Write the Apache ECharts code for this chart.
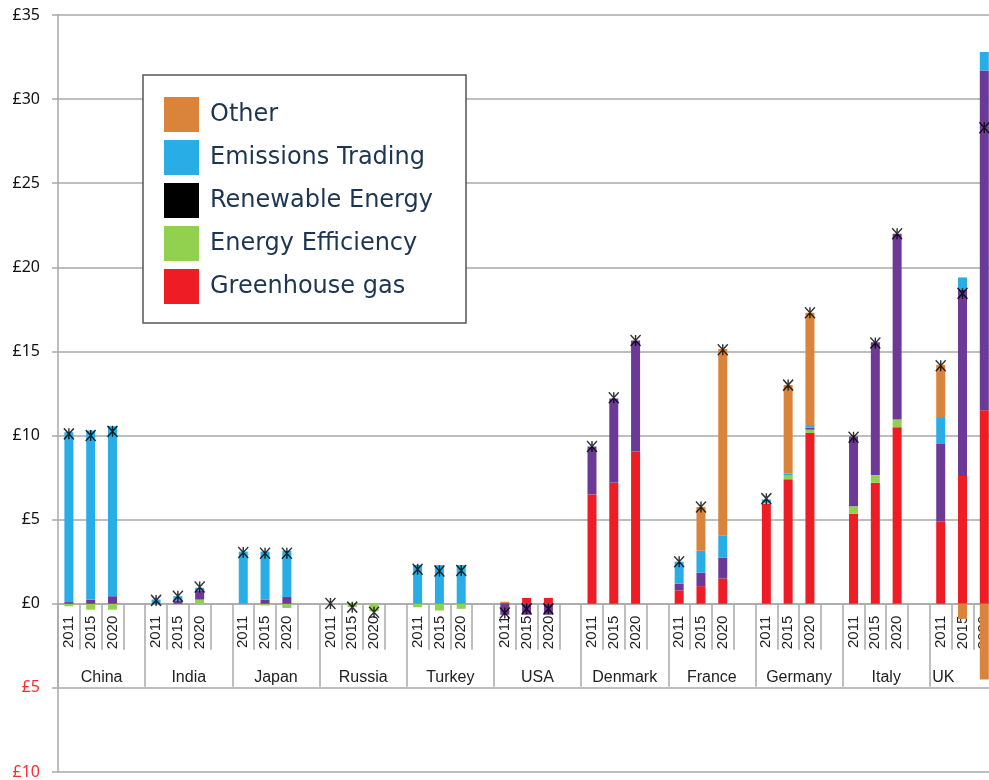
<!DOCTYPE html>
<html>
<head>
<meta charset="utf-8">
<style>
  html, body { margin: 0; padding: 0; background: #fff; }
  #chart { width: 989px; height: 780px; }
</style>
<script src="https://cdn.jsdelivr.net/npm/echarts@6/dist/echarts.min.js"></script>
</head>
<body>
<div id="chart"></div>
<script>
const countries = ["China", "India", "Japan", "Russia", "Turkey", "USA", "Denmark", "France", "Germany", "Italy", "UK"];
const years = ["2011", "2015", "2020"];

// values per country, 2011 / 2015 / 2020 (£)
const greenhouseGas = [0, 0, 0, 0, 0, 0, 0, 0, 0, 0, 0, 0, 0, 0, 0, 0.05, 0.35, 0.35,
  6.5, 7.2, 9.05, 0.8, 1.05, 1.5, 5.95, 7.4, 10.15, 5.35, 7.2, 10.5, 4.9, 7.6, 11.5];
const energyEfficiency = [-0.15, -0.35, -0.35, 0, 0, 0.25, 0, -0.1, -0.25, 0, -0.2, -0.45, -0.2, -0.4, -0.3, 0, 0, 0,
  0, 0, 0, 0, 0, 0, 0.05, 0.22, 0.2, 0.45, 0.45, 0.45, 0, 0, 0];
const renewableEnergy = [0.1, 0.25, 0.45, 0, 0.2, 0.55, 0, 0.25, 0.4, 0, 0, 0, 0, 0, 0, -0.65, -0.65, -0.65,
  2.85, 5.0, 6.6, 0.4, 0.8, 1.25, 0, 0, 0.12, 4.15, 7.9, 11.05, 4.6, 11.05, 20.2];
const emissionsTrading = [10.1, 10.05, 10.1, 0.25, 0.25, 0.15, 3.1, 2.85, 2.75, 0, 0, 0, 2.3, 2.3, 2.3, 0, 0, 0,
  0, 0, 0, 1.3, 1.3, 1.3, 0.2, 0.11, 0.1, 0, 0, 0, 1.6, 0.75, 1.1];
const other = [0, 0, 0, 0, 0, 0, 0, 0, 0, 0, 0, 0, 0, 0, 0, 0.07, 0, 0,
  0, 0, 0, 0, 2.6, 11.1, 0, 5.27, 6.73, 0, 0, 0, 3.1, -0.9, -4.5];
const totals = [10.1, 10.0, 10.25, 0.2, 0.45, 1.0, 3.05, 3.0, 3.0, 0.02, -0.2, -0.5, 2.05, 1.95, 1.98, -0.55, -0.3, -0.3,
  9.35, 12.25, 15.65, 2.5, 5.75, 15.1, 6.25, 13.0, 17.3, 9.9, 15.5, 22.0, 14.15, 18.45, 28.3];

const yTicks = { min: -10, max: 35, step: 5 };

// each country gets 3 year slots plus one empty gap slot
const slotLabels = [];
countries.forEach(() => { years.forEach(y => slotLabels.push(y)); slotLabels.push(""); });
function toSlots(arr) {
  const out = [];
  for (let i = 0; i < countries.length; i++) {
    out.push(arr[i * 3], arr[i * 3 + 1], arr[i * 3 + 2], "-");
  }
  return out;
}

const GRID_COLOR = "#a9a9a9";
const LABEL_FONT = "'Liberation Sans', Arial, sans-serif";
const GRID_H = 757;
// move the category axes up from the bottom (-10) to the zero line
const ZERO_OFFSET = -GRID_H * (0 - yTicks.min) / (yTicks.max - yTicks.min);

const barSeries = [
  { name: "Greenhouse gas", data: greenhouseGas, color: "#ee1c25" },
  { name: "Energy Efficiency", data: energyEfficiency, color: "#92d050" },
  { name: "Renewable Energy", data: renewableEnergy, color: "#6c3a96" },
  { name: "Emissions Trading", data: emissionsTrading, color: "#29ade6" },
  { name: "Other", data: other, color: "#da843b" },
].map(s => ({
  name: s.name,
  type: "bar",
  stack: "total",
  xAxisIndex: 0,
  barWidth: 9,
  data: toSlots(s.data),
  itemStyle: { color: s.color },
  emphasis: { disabled: true },
}));

const chart = echarts.init(document.getElementById("chart"), null, { renderer: "canvas" });

chart.setOption({
  animation: false,
  backgroundColor: "#fff",
  grid: { left: 58, top: 15, width: 959, height: GRID_H, containLabel: false, outerBoundsMode: "none" },
  legend: {
    orient: "vertical",
    left: 143,
    top: 75,
    padding: [22, 33, 19, 21],
    itemWidth: 35,
    itemHeight: 35,
    itemGap: 8,
    selectedMode: false,
    backgroundColor: "#fff",
    borderColor: "#555",
    borderWidth: 1.5,
    borderRadius: 0,
    textStyle: {
      fontFamily: "'DejaVu Sans', sans-serif",
      fontSize: 24,
      color: "#1c3550",
      padding: [0, 0, 0, 6],
    },
    data: [
      { name: "Other", icon: "rect" },
      { name: "Emissions Trading", icon: "rect" },
      { name: "Renewable Energy", icon: "rect", itemStyle: { color: "#000" } },
      { name: "Energy Efficiency", icon: "rect" },
      { name: "Greenhouse gas", icon: "rect" },
    ],
  },
  xAxis: [
    {
      type: "category",
      data: slotLabels,
      position: "bottom",
      offset: ZERO_OFFSET,
      axisLine: { onZero: false, lineStyle: { color: GRID_COLOR, width: 1.5 } },
      axisTick: { show: true, interval: 0, length: 46, lineStyle: { color: GRID_COLOR, width: 1.5 } },
      axisLabel: { show: true, interval: 0, rotate: 90, margin: 12, fontSize: 15, fontFamily: LABEL_FONT, color: "#222", hideOverlap: false },
      splitLine: { show: false },
    },
    {
      type: "category",
      data: countries,
      position: "bottom",
      offset: ZERO_OFFSET,
      axisLine: { show: false, onZero: false },
      axisTick: { show: true, interval: 0, length: 83, lineStyle: { color: GRID_COLOR, width: 1.5 } },
      axisLabel: {
        show: true, interval: 0, margin: 66, fontSize: 16, fontFamily: LABEL_FONT, color: "#222", hideOverlap: false,
        formatter: v => v === "UK" ? "{uk|UK}" : v,
        rich: { uk: { fontSize: 16, fontFamily: LABEL_FONT, color: "#222", padding: [0, 60, 0, 0] } },
      },
      splitLine: { show: false },
    },
  ],
  yAxis: {
    type: "value",
    min: yTicks.min,
    max: yTicks.max,
    interval: yTicks.step,
    axisLine: { show: true, lineStyle: { color: GRID_COLOR, width: 1.5 } },
    axisTick: { show: true, length: 6, lineStyle: { color: GRID_COLOR, width: 1.5 } },
    splitLine: { lineStyle: { color: GRID_COLOR, width: 1.5 } },
    axisLabel: {
      margin: 18,
      fontFamily: "'Noto Sans', sans-serif",
      fontSize: 16,
      color: "#111",
      formatter: v => v < 0 ? `{neg|£${Math.abs(v)}}` : `£${v}`,
      rich: { neg: { color: "#ff2b2b", fontFamily: "'Noto Sans', sans-serif", fontSize: 16 } },
    },
  },
  series: [
    ...barSeries,
    {
      name: "Total",
      type: "scatter",
      xAxisIndex: 0,
      data: toSlots(totals),
      symbol: "path://M0,0L10,11M10,0L0,11M5,0L5,11",
      symbolSize: [10, 11],
      itemStyle: { color: "rgba(0,0,0,0)", borderColor: "#000", borderWidth: 1.5 },
      emphasis: { disabled: true },
      z: 5,
    },
  ],
});

window.addEventListener("resize", () => chart.resize());
</script>
</body>
</html>
